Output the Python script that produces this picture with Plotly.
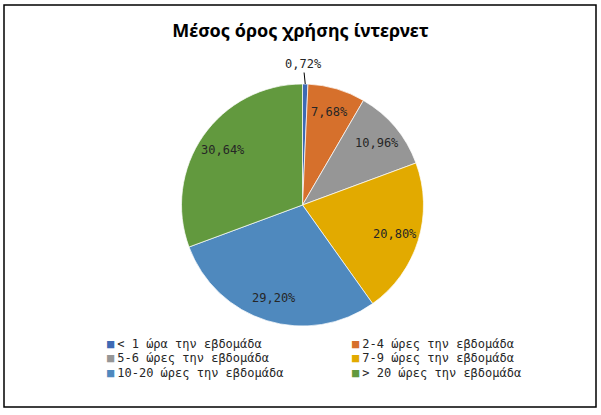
import math
import plotly.graph_objects as go

# ---- data ----
categories = ["< 1 ώρα την εβδομάδα", "2-4 ώρες την εβδομάδα", "5-6 ώρες την εβδομάδα",
              "7-9 ώρες την εβδομάδα", "10-20 ώρες την εβδομάδα", "> 20 ώρες την εβδομάδα"]
values = [0.72, 7.68, 10.96, 20.80, 29.20, 30.64]
colors = ["#3E6AB4", "#D6702C", "#969696", "#E2AA00", "#4F89BE", "#62993E"]
title_text = "Μέσος όρος χρήσης ίντερνετ"

W, H = 601, 415
cx, cy, R = 302.5, 205.0, 121.0   # pie centre / radius in pixels

def px(x):
    return x / W

def py(y):
    return 1 - y / H

def fmt(v):
    return f"{v:.2f}".replace(".", ",") + "%"

fig = go.Figure(go.Pie(
    labels=categories, values=values, sort=False, direction="clockwise", rotation=0,
    marker=dict(colors=colors, line=dict(color="white", width=0.7)),
    textinfo="none", hoverinfo="label+percent", showlegend=False,
    domain=dict(x=[px(cx - R), px(cx + R)], y=[py(cy + R), py(cy - R)]),
))

lab_font = dict(family="DejaVu Sans Mono", size=12, color="#262626")
annotations = []
total = sum(values)
cum = 0.0
for i, v in enumerate(values):
    mid = (cum + v / 2) / total * 2 * math.pi
    cum += v
    if v / total < 0.02:
        ex, ey = cx + R * math.sin(mid), cy - R * math.cos(mid)
        annotations.append(dict(x=px(ex), y=py(ey), xref="paper", yref="paper",
                                text=fmt(v), showarrow=True, arrowhead=0, arrowwidth=1,
                                arrowcolor="black", ax=-2, ay=-20, standoff=0,
                                font=lab_font))
    else:
        rr = 0.8 * R
        lx, ly = cx + rr * math.sin(mid), cy - rr * math.cos(mid)
        annotations.append(dict(x=px(lx), y=py(ly), xref="paper", yref="paper",
                                text=fmt(v), showarrow=False, font=lab_font,
                                xanchor="center", yanchor="middle"))

# legend (two columns, three rows)
col_x = [105, 350]
row_y = [343.5, 358, 372.5]
for i, (c, col) in enumerate(zip(categories, colors)):
    annotations.append(dict(
        x=px(col_x[i % 2]), y=py(row_y[i // 2]), xref="paper", yref="paper",
        xanchor="left", yanchor="middle", showarrow=False,
        text=f"<span style='color:{col}'>■</span><span style='font-size:5px'> </span>{c}",
        font=dict(family="DejaVu Sans Mono", size=12, color="#262626")))

fig.update_layout(
    width=W, height=H, margin=dict(l=0, r=0, t=0, b=0),
    paper_bgcolor="white", plot_bgcolor="white",
    title=dict(text=f"<b>{title_text}</b>", x=0.5, xanchor="center", y=py(31), yanchor="middle",
               font=dict(family="Noto Sans", size=18, color="black")),
    annotations=annotations,
    shapes=[dict(type="rect", xref="paper", yref="paper", x0=px(4), x1=px(596), y0=py(407), y1=py(5),
                 line=dict(color="black", width=1.5))],
)

fig.write_html("out.html", config={"displayModeBar": False},
               post_script="document.body.style.margin='0';document.body.style.overflow='hidden';")
